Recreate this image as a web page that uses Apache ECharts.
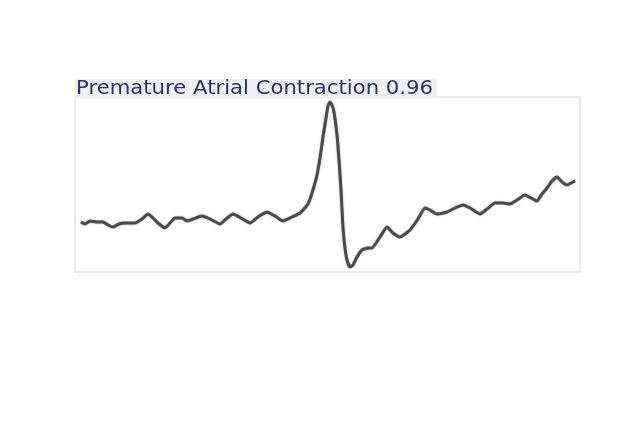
<!DOCTYPE html>
<html lang="en">
<head>
    <meta charset="UTF-8">
    <title>ECG</title>
    <script src="https://cdn.jsdelivr.net/npm/echarts@6/dist/echarts.min.js"></script>
    <style>
        html, body {
            margin: 0;
            padding: 0;
            background: #fff;
        }

        #chart {
            width: 640px;
            height: 427px;
        }
    </style>
</head>
<body>
<div id="chart"></div>
<script>
    // time in ms from left edge of detection box, amplitude in mV
    var timeMs = [12, 20, 30, 44, 56, 66, 76, 88, 100, 120, 134, 146, 156, 166, 180, 190, 200, 214, 224, 236,
        254, 270, 290, 302, 316, 332, 350, 366, 384, 400, 416, 434, 450, 466, 476, 484, 490, 496, 502, 506,
        510, 514, 518, 524, 528, 532, 536, 540, 544, 550, 556, 564, 574, 586, 594, 610, 624, 636, 650, 670,
        686, 700, 710, 724, 744, 760, 776, 790, 810, 824, 840, 856, 870, 884, 900, 912, 924, 934, 944, 954,
        964, 974, 984, 992, 1000];
    var amplitude = [0.00, -0.04, 0.02, 0.00, 0.00, -0.06, -0.10, -0.04, -0.02, -0.02, 0.06, 0.16, 0.08, -0.02, -0.12, -0.02, 0.08, 0.08, 0.02, 0.06,
        0.12, 0.06, -0.04, 0.06, 0.16, 0.08, -0.02, 0.10, 0.20, 0.12, 0.02, 0.10, 0.18, 0.36, 0.64, 0.94, 1.28, 1.70, 2.08, 2.32,
        2.40, 2.34, 2.20, 1.74, 1.24, 0.64, -0.12, -0.52, -0.76, -0.90, -0.86, -0.70, -0.56, -0.52, -0.52, -0.30, -0.10, -0.22, -0.30, -0.16,
        0.06, 0.28, 0.24, 0.16, 0.20, 0.28, 0.34, 0.28, 0.16, 0.26, 0.38, 0.38, 0.36, 0.44, 0.54, 0.48, 0.42, 0.56, 0.68, 0.82,
        0.90, 0.80, 0.74, 0.78, 0.82];
    var labelText = 'Premature Atrial Contraction 0.96';

    var points = [];
    for (var i = 0; i < timeMs.length; ++i) {
        points.push([timeMs[i], amplitude[i]]);
    }

    var chart = echarts.init(document.getElementById('chart'), null, {renderer: 'canvas'});
    chart.setOption({
        animation: false,
        backgroundColor: '#ffffff',
        grid: {
            left: 75,
            top: 97,
            width: 505,
            height: 175,
            show: true,
            borderColor: '#ebebeb',
            borderWidth: 2,
            backgroundColor: 'transparent'
        },
        xAxis: {
            type: 'value',
            min: 0,
            max: 1010,
            show: false
        },
        yAxis: {
            type: 'value',
            min: -1.0,
            max: 2.5,
            show: false
        },
        series: [{
            type: 'line',
            data: points,
            smooth: 0.15,
            symbol: 'none',
            lineStyle: {
                color: '#4a4a4a',
                width: 3,
                shadowColor: 'rgba(0,0,0,0.35)',
                shadowBlur: 2
            }
        }],
        graphic: [{
            type: 'rect',
            left: 75,
            top: 79,
            shape: {width: 362, height: 18},
            style: {fill: '#f0f0f2'}
        }, {
            type: 'text',
            x: 76,
            y: 80,
            scaleX: 1.115,
            style: {
                text: labelText,
                fill: '#2b3070',
                font: '19px "DejaVu Sans"'
            }
        }]
    });
</script>
</body>
</html>
